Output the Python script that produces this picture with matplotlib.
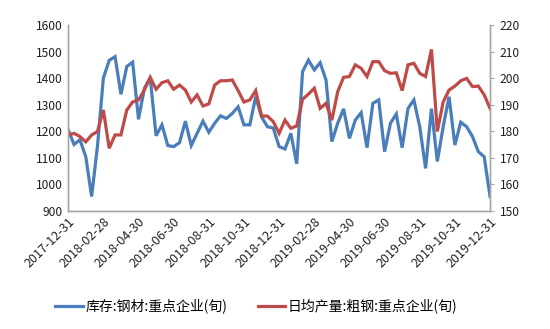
import matplotlib
matplotlib.use("Agg")
import matplotlib.pyplot as plt

tick_labels = ["2017-12-31", "2018-02-28", "2018-04-30", "2018-06-30", "2018-08-31",
               "2018-10-31", "2018-12-31", "2019-02-28", "2019-04-30", "2019-06-30",
               "2019-08-31", "2019-10-31", "2019-12-31"]

inventory = [1205, 1150, 1168, 1104, 954, 1145, 1400, 1467, 1481, 1339,
             1444, 1460, 1245, 1362, 1400, 1183, 1224, 1146, 1142, 1157,
             1238, 1146, 1192, 1238, 1196, 1230, 1258, 1248, 1267, 1292,
             1224, 1224, 1330, 1254, 1217, 1212, 1142, 1133, 1192, 1077,
             1424, 1468, 1431, 1458, 1393, 1161, 1230, 1284, 1173, 1242,
             1270, 1138, 1305, 1318, 1123, 1230, 1265, 1138, 1286, 1318,
             1217, 1060, 1285, 1086, 1217, 1330, 1148, 1234, 1217, 1180,
             1123, 1104, 954]

output = [178.6, 179.2, 178.0, 176.0, 178.6, 179.9, 188.0, 173.6, 178.6, 178.6,
          188.0, 191.0, 191.8, 195.5, 200.3, 195.8, 198.3, 199.0, 195.8, 197.4,
          195.5, 191.0, 193.7, 189.5, 190.3, 197.4, 199.0, 199.0, 199.3, 195.3,
          191.0, 191.8, 195.3, 185.7, 185.7, 183.6, 179.2, 184.2, 181.1, 182.0,
          192.0, 194.0, 196.2, 188.6, 190.5, 184.2, 194.9, 200.3, 200.6, 205.0,
          203.7, 200.6, 206.2, 206.2, 202.8, 201.8, 202.0, 195.3, 205.0, 205.6,
          201.8, 200.6, 210.8, 179.9, 191.0, 195.5, 197.0, 199.0, 199.9, 196.8,
          197.0, 193.7, 188.6]

name_inv = "库存:钢材:重点企业(旬)"
name_out = "日均产量:粗钢:重点企业(旬)"

plt.rcParams['font.family'] = ['Noto Sans CJK SC', 'DejaVu Sans']

blue = "#4A7EBB"
red = "#BE4B48"
gray = "#A6A6A6"

fig = plt.figure(figsize=(5.5, 3.29), dpi=100)
ax = fig.add_axes([0.124, 0.359, 0.767, 0.565])
ax2 = ax.twinx()

x = list(range(len(inventory)))
l1, = ax.plot(x, inventory, color=blue, lw=2.3, solid_joinstyle='miter')
l2, = ax2.plot(x, output, color=red, lw=2.3, solid_joinstyle='miter')

ax.set_xlim(0, len(inventory) - 1)
ax.set_ylim(900, 1600)
ax.set_yticks(range(900, 1601, 100))
ax2.set_ylim(150, 220)
ax2.set_yticks(range(150, 221, 10))

ax.set_xticks(range(0, len(inventory), 6))
ax.set_xticklabels(tick_labels, rotation=45, ha='right', rotation_mode='anchor')

for a in (ax, ax2):
    a.spines['top'].set_visible(False)
    for s in ('left', 'right', 'bottom'):
        a.spines[s].set_color(gray)
        a.spines[s].set_linewidth(1.0)
    a.tick_params(labelsize=8.7, colors='#222222')

ax.tick_params(axis='y', length=0, pad=4)
ax.tick_params(axis='x', length=0, pad=3, labelsize=9)
ax2.tick_params(axis='y', length=3, color=gray, pad=4)

fig.legend([l1, l2], [name_inv, name_out], loc='center', bbox_to_anchor=(0.466, 0.07),
           ncol=2, frameon=False, fontsize=10, handlelength=2.0, columnspacing=2.2,
           handletextpad=0.15)

fig.savefig("out.png", dpi=100, facecolor='white')
